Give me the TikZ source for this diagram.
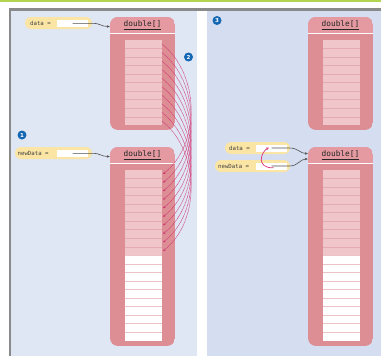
\documentclass[tikz,border=0pt]{standalone}
\usepackage{fontspec}
\newfontfamily\codefont{DejaVu Sans Mono}
\newfontfamily\labfont{DejaVu Sans}
\usetikzlibrary{arrows.meta,calc}

\definecolor{topgreen}{HTML}{B2D44F}
\definecolor{rulegray}{HTML}{8A8A8A}
\definecolor{paneleft}{HTML}{DFE7F4}
\definecolor{paneright}{HTML}{D4DEF0}
\definecolor{arrpink}{HTML}{DD8E95}
\definecolor{hdrpink}{HTML}{E49AA0}
\definecolor{cellpink}{HTML}{F0C6CA}
\definecolor{cellline}{HTML}{E4ACB1}
\definecolor{emptyline}{HTML}{EDC3C7}
\definecolor{pillyellow}{HTML}{FBE5A4}
\definecolor{ptrgray}{HTML}{505050}
\definecolor{copymag}{HTML}{D0306F}
\definecolor{swapmag}{HTML}{DC3A82}
\definecolor{labblue}{HTML}{1467B3}

\tikzset{
  hdrtext/.style={minimum width=65pt, minimum height=16pt, inner sep=0pt,
    font=\codefont\fontsize{7.8}{8}\selectfont, text=black!85},
  pill/.style={fill=pillyellow, rounded corners=6pt, minimum height=12pt, inner sep=0pt},
  pilltext/.style={inner sep=0pt, anchor=west, font=\codefont\fontsize{5.7}{6}\selectfont, text=black!75},
  valbox/.style={fill=white, minimum width=31pt, minimum height=7pt, inner sep=0pt},
  ptr/.style={draw=ptrgray, line width=0.6pt, -{Stealth[length=3pt,width=2.6pt]}},
  copyarc/.style={draw=copymag, line width=0.5pt, dash pattern=on 0.6pt off 0.5pt,
    -{Stealth[length=2.6pt,width=2.2pt]}},
  swaparc/.style={draw=swapmag, line width=0.75pt, -{Stealth[length=3.2pt,width=2.8pt]}},
  steplabel/.style={circle, fill=labblue, minimum size=9pt, inner sep=0pt,
    font=\labfont\bfseries\fontsize{5.5}{6}\selectfont, text=white}
}

\begin{document}
\begin{tikzpicture}[x=1pt,y=-1pt]
\useasboundingbox (0,0) rectangle (381,356);

% frame and the two panels
\fill[topgreen] (0,0) rectangle (381,1.6);
\fill[paneleft] (11,10.5) rectangle (197,356);
\fill[paneright] (206.5,10.5) rectangle (381,356);
\fill[rulegray] (8.5,8.4) rectangle (381,10.5);
\fill[rulegray] (8.5,8.4) rectangle (11,356);

% array objects: name / left / top / bottom / filled rows / empty rows
\foreach \nm/\xl/\yt/\yb/\nf/\ne in {A1/110/17/130/10/0, A2/110/147/346/10/10,
                                       B1/308/17/130/10/0, B2/308/147/346/10/10}{
  \begin{scope}
    \clip[rounded corners=8pt] (\xl,\yt) rectangle (\xl+65,\yb);
    \fill[arrpink] (\xl,\yt) rectangle (\xl+65,\yb);
    \fill[hdrpink] (\xl,\yt) rectangle (\xl+65,\yt+16);
    \fill[white] (\xl,\yt+16) rectangle (\xl+65,\yt+17.4);
  \end{scope}
  \node[hdrtext] (\nm-h) at (\xl+32.5,\yt+8) {\underline{double[]}};
  \pgfmathtruncatemacro\ntot{\nf+\ne}
  \foreach \i in {1,...,\ntot}{
    \ifnum\i>\nf
      \fill[white] (\xl+15,\yt+22.8+\i*8.55-8.55) rectangle (\xl+52,\yt+22.8+\i*8.55);
    \else
      \fill[cellpink] (\xl+15,\yt+22.8+\i*8.55-8.55) rectangle (\xl+52,\yt+22.8+\i*8.55);
    \fi
    \coordinate (\nm-c\i) at (\xl+52,\yt+22.8+\i*8.55-4.3);
  }
  \foreach \i in {1,...,\ntot}{
    \ifnum\i<\ntot
      \ifnum\i<\nf
        \draw[cellline, line width=0.5pt] (\xl+15,\yt+22.8+\i*8.55) -- (\xl+52,\yt+22.8+\i*8.55);
      \else
        \draw[emptyline, line width=0.5pt] (\xl+15,\yt+22.8+\i*8.55) -- (\xl+52,\yt+22.8+\i*8.55);
      \fi
    \fi
  }
}

% variables, left panel
\node[pill, minimum width=67pt] (ldata) at (58.5,23) {};
\node[pilltext] (ldatat) at (30,23) {data =};
\node[valbox] (ldbox) at (72.5,23.3) {};
\node[pill, minimum width=77pt] (lnew) at (53.5,153) {};
\node[pilltext] (lnewt) at (17.5,153) {newData =};
\node[valbox] (lnbox) at (72.5,153.3) {};

% variables, right panel
\node[pill, minimum width=65pt] (rdata) at (257.5,148) {};
\node[pilltext] (rdatat) at (229,148) {data =};
\node[valbox] (rdbox) at (271.5,148) {};
\node[pill, minimum width=75pt] (rnew) at (252.5,166) {};
\node[pilltext] (rnewt) at (218,166) {newData =};
\node[valbox] (rnbox) at (271.5,166) {};

% references
\draw[ptr] (ldbox.center) -- ++(20,0) .. controls +(8,0) and +(-9,0) .. ([yshift=-1.5pt]A1-h.west);
\draw[ptr] (lnbox.center) -- ++(20,0) .. controls +(8,0) and +(-9,0) .. ([yshift=-1.5pt]A2-h.west);
\draw[ptr] (rdbox.center) -- ++(18,0) .. controls +(9,0) and +(-8,0) .. ([yshift=1.5pt]B2-h.west);
\draw[ptr] (rnbox.center) -- ++(18,0) .. controls +(9,0) and +(-8,0) .. ([yshift=-4pt]B2-h.west);

% element-by-element copy
\foreach \i in {1,...,10}{
  \draw[copyarc] (A1-c\i) .. controls +(38,30) and +(38,-30) .. ([xshift=1pt]A2-c\i);
}

% exchange of references
\draw[swaparc] ([xshift=2pt,yshift=-1.8pt]rnbox.center)
  .. controls +(-18,0.5) and +(-8,4.5) .. ([xshift=-2.5pt,yshift=0.5pt]rdbox.center);

% step numbers
\node[steplabel] (step1) at (22,135) {1};
\node[steplabel] (step2) at (188.5,57) {2};
\node[steplabel] (step3) at (217,20.5) {3};
\end{tikzpicture}
\end{document}
